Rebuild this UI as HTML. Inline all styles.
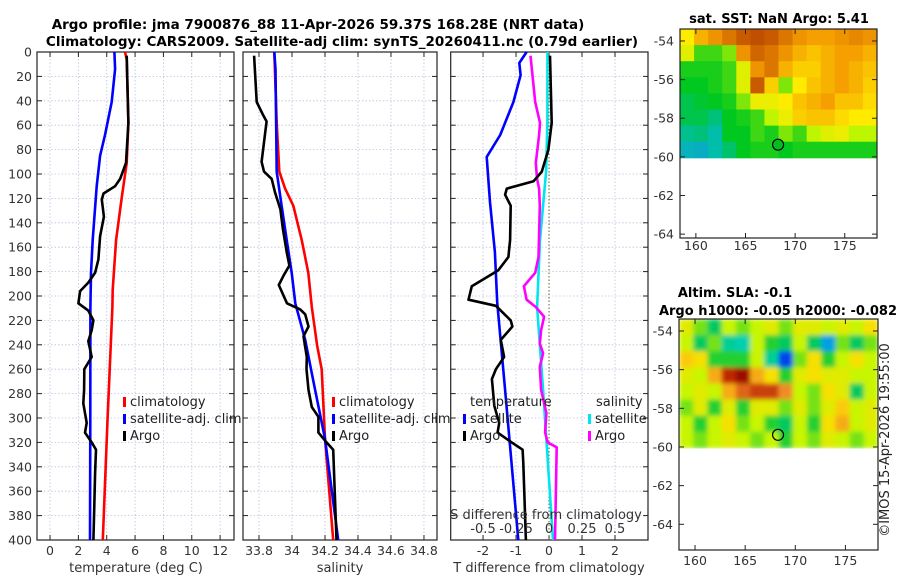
<!DOCTYPE html>
<html><head><meta charset="utf-8"><style>
body{margin:0;background:#fff}
svg{display:block;font-family:"DejaVu Sans","Liberation Sans",sans-serif}
</style></head><body>
<svg id="fig" width="900" height="580" viewBox="0 0 900 580">
<defs>
<filter id="blur" x="0" y="0" width="100%" height="100%"><feGaussianBlur stdDeviation="2.5" edgeMode="duplicate"/></filter>
<clipPath id="slaclip"><rect x="679" y="319" width="199" height="130"/></clipPath>
</defs>
<text x="318" y="29" text-anchor="middle" font-weight="bold" font-size="13.5">Argo profile: jma 7900876_88 11-Apr-2026 59.37S 168.28E (NRT data)</text>
<text x="342" y="46" text-anchor="middle" font-weight="bold" font-size="13.5">Climatology: CARS2009. Satellite-adj clim: synTS_20260411.nc (0.79d earlier)</text>
<text x="779" y="23" text-anchor="middle" font-weight="bold" font-size="13">sat. SST: NaN Argo: 5.41</text>
<text x="735" y="297" text-anchor="middle" font-weight="bold" font-size="13">Altim. SLA: -0.1</text>
<text x="778" y="315" text-anchor="middle" font-weight="bold" font-size="13">Argo h1000: -0.05 h2000: -0.082</text>
<text transform="translate(889,440) rotate(-90)" text-anchor="middle" font-size="13" fill="#222">©IMOS 15-Apr-2026 19:55:00</text>
<g id="layer"></g>
</svg>
<script>
// ---------- data ----------
const climTdepth=[0,6,58,91,119,154,195,209,304,400];
const climT=[5.29,5.41,5.53,5.41,5.06,4.66,4.42,4.4,4.05,3.72];
const satTdepth=[0,14,41,68,85,110,154,181,209,300,400];
const satT=[4.54,4.59,4.35,3.88,3.53,3.29,3.01,2.89,2.85,2.84,2.82];
const argoTdepth=[3,58,91,104,110,116,121,135,151,170,181,189,196,206,212,220,228,237,250,260,277,288,304,312,320,326,345,372,400];
const argoT=[5.41,5.53,5.36,4.94,4.59,3.77,3.65,3.8,3.53,3.41,3.18,2.7,2.12,2.0,2.7,3.06,2.94,2.7,2.94,2.42,2.4,2.35,2.59,2.47,2.94,3.24,3.18,3.12,3.06];

const climSdepth=[0,58,98,112,126,154,181,209,241,260,317,400];
const climS=[33.893,33.907,33.923,33.958,34.008,34.059,34.099,34.12,34.153,34.18,34.2,34.25];
const satSdepth=[0,14,98,126,154,181,206,236,277,317,400];
const satS=[33.893,33.9,33.907,33.937,33.968,33.998,34.02,34.08,34.14,34.2,34.28];
const argoSdepth=[3,41,52,57,68,90,98,104,115,129,145,164,175,183,191,200,206,211,215,225,233,250,260,277,291,299,312,320,326,400];
const argoS=[33.77,33.786,33.826,33.846,33.836,33.816,33.83,33.877,33.897,33.93,33.945,33.968,33.984,33.95,33.92,33.95,33.97,34.05,34.08,34.1,34.07,34.09,34.088,34.1,34.12,34.16,34.16,34.21,34.25,34.27];

const dTsatDepth=[0,9,19,41,68,86,123,164,205,277,400];
const dTsat=[-0.68,-0.9,-0.86,-1.08,-1.48,-1.89,-1.79,-1.64,-1.57,-1.33,-0.93];
const dTargoDepth=[3,58,80,98,106,112,117,126,154,168,179,192,203,208,220,225,236,250,260,268,290,304,312,320,326,337,400];
const dTargo=[0.03,0.08,-0.02,-0.22,-0.47,-1.28,-1.33,-1.16,-1.18,-1.23,-1.54,-2.34,-2.44,-1.61,-1.16,-1.11,-1.46,-1.36,-1.61,-1.73,-1.66,-1.51,-1.56,-1.13,-0.8,-0.78,-0.7];
const dSsatDepth=[0,58,98,154,209,277,400];
const dSsat=[-0.012,-0.012,-0.022,-0.068,-0.09,-0.045,0.03];
const dSargoDepth=[3,41,58,68,91,104,112,126,168,181,192,203,209,217,228,239,247,258,277,296,312,320,324,400];
const dSargo=[-0.14,-0.105,-0.068,-0.075,-0.1,-0.09,-0.075,-0.07,-0.08,-0.105,-0.19,-0.17,-0.1,-0.037,-0.06,-0.07,-0.045,-0.07,-0.06,-0.02,-0.03,-0.01,0.058,0.045];

const depthTicks=[0,20,40,60,80,100,120,140,160,180,200,220,240,260,280,300,320,340,360,380,400];
const tTicks=[0,2,4,6,8,10,12];
const sTicks=[33.8,34,34.2,34.4,34.6,34.8];
const dTicks=[-2,-1,0,1,2];
const dTickLabels=["-2","-1","0","1","2"];
const dsTickLabels=["-0.5","-0.25","0","0.25","0.5"];

const sstGrid=[
[0.65,0.75,0.8,0.85,0.9,0.92,0.9,0.85,0.8,0.78,0.78,0.8,0.82,0.8],
[0.6,0.45,0.45,0.5,0.8,0.88,0.85,0.8,0.75,0.72,0.75,0.78,0.78,0.75],
[0.42,0.42,0.42,0.45,0.6,0.8,0.85,0.75,0.7,0.7,0.75,0.78,0.75,0.72],
[0.4,0.4,0.42,0.45,0.6,0.9,0.7,0.5,0.65,0.72,0.75,0.78,0.75,0.7],
[0.35,0.38,0.4,0.42,0.5,0.62,0.62,0.65,0.72,0.75,0.78,0.72,0.72,0.68],
[0.35,0.35,0.3,0.4,0.42,0.45,0.55,0.62,0.7,0.72,0.72,0.68,0.65,0.65],
[0.28,0.3,0.25,0.4,0.4,0.45,0.42,0.5,0.45,0.55,0.6,0.62,0.55,0.55],
[0.2,0.18,0.25,0.32,0.4,0.42,0.42,0.4,0.42,0.42,0.42,0.42,0.42,0.42]];
const slaGrid=[
[0.55,0.45,0.35,0.5,0.45,0.5,0.55,0.45,0.55,0.55,0.5,0.55,0.5,0.6],
[0.5,0.35,0.45,0.3,0.28,0.5,0.4,0.35,0.5,0.35,0.2,0.45,0.35,0.45],
[0.65,0.6,0.4,0.4,0.4,0.5,0.3,0.1,0.45,0.6,0.4,0.5,0.6,0.5],
[0.55,0.5,0.7,0.88,0.95,0.7,0.6,0.4,0.55,0.6,0.55,0.55,0.5,0.5],
[0.5,0.55,0.5,0.7,0.8,0.85,0.85,0.75,0.5,0.45,0.6,0.55,0.35,0.5],
[0.45,0.55,0.4,0.55,0.4,0.55,0.55,0.45,0.55,0.45,0.55,0.65,0.5,0.55],
[0.5,0.4,0.5,0.6,0.45,0.5,0.4,0.35,0.5,0.4,0.6,0.7,0.5,0.55],
[0.5,0.45,0.5,0.55,0.5,0.45,0.5,0.4,0.5,0.45,0.55,0.5,0.45,0.5]];
const lonTicks=[160,165,170,175];
const latTicks=[-54,-56,-58,-60,-62,-64];
const argoLon=168.28, argoLat=-59.37;

// ---------- drawing ----------
const NS="http://www.w3.org/2000/svg";
const layer=document.getElementById('layer');
function mk(tag,attrs,parent){const e=document.createElementNS(NS,tag);for(const k in attrs)e.setAttribute(k,attrs[k]);(parent||layer).appendChild(e);return e;}
const Y0=52,Y1=540;
const yD=d=>Y0+(d/400)*(Y1-Y0);
function lin(a,b,p,q){return v=>p+(v-a)/(b-a)*(q-p);}

function panel(name,x0,x1,xmin,xmax,ticks,labels,showY){
  const g=mk('g',{});
  
  
  const xs=lin(xmin,xmax,x0,x1);
  ticks.forEach((t,i)=>{
    const gl=mk('line',{x1:xs(t),x2:xs(t),y1:Y0,y2:Y1,stroke:'#b8c4e0','stroke-width':0.8,'stroke-dasharray':'1.5,2'},g);
    
    
    mk('line',{x1:xs(t),x2:xs(t),y1:Y1,y2:Y1-5,stroke:'#222'},g);
    mk('line',{x1:xs(t),x2:xs(t),y1:Y0,y2:Y0+5,stroke:'#222'},g);
    const tl=mk('text',{x:xs(t),y:555,'text-anchor':'middle','font-size':12.5,fill:'#333'},g);
    tl.textContent=labels[i];
    
    
  });
  depthTicks.forEach(d=>{
    if(d>0&&d<400){
      const gl=mk('line',{x1:x0,x2:x1,y1:yD(d),y2:yD(d),stroke:'#b8c4e0','stroke-width':0.8,'stroke-dasharray':'1.5,2'},g);
      
      
    }
    mk('line',{x1:x0,x2:x0+5,y1:yD(d),y2:yD(d),stroke:'#222'},g);
    mk('line',{x1:x1,x2:x1-5,y1:yD(d),y2:yD(d),stroke:'#222'},g);
    if(showY){
      const tl=mk('text',{x:32,y:yD(d)+4.5,'text-anchor':'end','font-size':12.5,fill:'#333'},g);
      tl.textContent=d;
      
      
    }
  });
  const box=mk('rect',{x:x0,y:Y0,width:x1-x0,height:Y1-Y0,fill:'none',stroke:'#222','stroke-width':1.2},g);
  
  
  return {g,xs};
}
function series(p,vals,depths,color,name,scale){
  const pts=vals.map((v,i)=>p.xs(v*(scale||1)).toFixed(1)+','+yD(depths[i]).toFixed(1)).join(' ');
  const l=mk('polyline',{points:pts,fill:'none',stroke:color,'stroke-width':2.6,'stroke-linejoin':'round'},p.g);
  
  
}
function legendItem(g,x,y,color,label,name){
  if(color){const b=mk('rect',{x:x,y:y-9,width:3,height:10,fill:color},g);
    
    }
  const t=mk('text',{x:x+(color?7:0),y:y,'font-size':13,fill:'#222'},g);
  t.textContent=label;
  
  
}
function label(g,x,y,txt,name,anchor){
  const t=mk('text',{x:x,y:y,'text-anchor':anchor||'middle','font-size':13,fill:'#333'},g);
  t.textContent=txt;
  
  
}

// Panel 1 temperature
const p1=panel('temperature-panel',37,234,-0.92,12.98,tTicks,tTicks.map(String),true);
series(p1,climT,climTdepth,'#ff0000','temp-climatology-line');
series(p1,satT,satTdepth,'#0000ff','temp-satellite-line');
series(p1,argoT,argoTdepth,'#000000','temp-argo-line');
label(p1.g,136,572,'temperature (deg C)','temperature-axis-title');
legendItem(p1.g,123,406,'#ff0000','climatology','legend-climatology');
legendItem(p1.g,123,423,'#0000ff','satellite-adj. clim','legend-satellite');
legendItem(p1.g,123,440,'#000000','Argo','legend-argo');

// Panel 2 salinity
const p2=panel('salinity-panel',243,437,33.703,34.879,sTicks,sTicks.map(v=>v===34?'34':v.toFixed(1)),false);
series(p2,climS,climSdepth,'#ff0000','sal-climatology-line');
series(p2,satS,satSdepth,'#0000ff','sal-satellite-line');
series(p2,argoS,argoSdepth,'#000000','sal-argo-line');
label(p2.g,340,572,'salinity','salinity-axis-title');
legendItem(p2.g,332,406,'#ff0000','climatology','legend-climatology-2');
legendItem(p2.g,332,423,'#0000ff','satellite-adj. clim','legend-satellite-2');
legendItem(p2.g,332,440,'#000000','Argo','legend-argo-2');

// Panel 3 differences
const p3=panel('difference-panel',450.7,648,-2.98,3.0,dTicks,dTickLabels,false);
const zl=mk('line',{x1:p3.xs(0),x2:p3.xs(0),y1:Y0,y2:Y1,stroke:'#556b2f','stroke-width':1,'stroke-dasharray':'1.5,2'},p3.g);


series(p3,dSsat,dSsatDepth,'#00e5ee','sal-diff-satellite-line',4);
series(p3,dSargo,dSargoDepth,'#ff00ff','sal-diff-argo-line',4);
series(p3,dTsat,dTsatDepth,'#0000ff','temp-diff-satellite-line');
series(p3,dTargo,dTargoDepth,'#000000','temp-diff-argo-line');
label(p3.g,549,572,'T difference from climatology','t-diff-axis-title');
label(p3.g,546,519,'S difference from climatology','s-diff-axis-title');
dsTickLabels.forEach((s,i)=>label(p3.g,p3.xs(dTicks[i]),533,s,'s-diff-tick-label'));
legendItem(p3.g,470,406,null,'temperature','legend-temperature-header');
legendItem(p3.g,463,423,'#0000ff','satellite','legend-t-satellite');
legendItem(p3.g,463,440,'#000000','Argo','legend-t-argo');
legendItem(p3.g,596,406,null,'salinity','legend-salinity-header');
legendItem(p3.g,588,423,'#00e5ee','satellite','legend-s-satellite');
legendItem(p3.g,588,440,'#ff00ff','Argo','legend-s-argo');

// ---------- maps ----------
const sstStops=[[0,[30,130,255]],[0.25,[0,190,170]],[0.4,[0,200,30]],[0.55,[190,245,0]],[0.65,[255,235,0]],[0.78,[245,160,0]],[0.9,[200,90,0]],[1,[160,40,0]]];
const slaStops=[[0,[0,0,150]],[0.12,[0,80,255]],[0.25,[0,210,210]],[0.38,[0,200,60]],[0.5,[200,245,0]],[0.62,[255,220,0]],[0.75,[240,140,40]],[0.88,[190,40,0]],[1,[130,0,0]]];
function cmap(stops,v){
  for(let i=1;i<stops.length;i++){if(v<=stops[i][0]){const [a,ca]=stops[i-1],[b,cb]=stops[i];const t=(v-a)/(b-a);
    return 'rgb('+ca.map((c,k)=>Math.round(c+(cb[k]-c)*t)).join(',')+')';}}
  return 'rgb('+stops[stops.length-1][1].join(',')+')';
}
function map(name,x0,x1,ytop,ybot,latTop,latBot,grid,stops,dataBottomLat,labelY,fillCircle,smooth){
  const g=mk('g',{});
  
  
  const xs=lin(158.4,178.25,x0,x1);
  const ys=lin(latTop,latBot,ytop,ybot);
  const rows=grid.length, cols=grid[0].length;
  const dTop=ytop, dBot=ys(dataBottomLat);
  const cw=(x1-x0)/cols, ch=(dBot-dTop)/rows;
  let cg=g;
  if(smooth){
    const clip=mk('g',{'clip-path':'url(#slaclip)'},g);
    cg=mk('g',{filter:'url(#blur)'},clip);
  }
  grid.forEach((row,r)=>row.forEach((v,c)=>{
    const cell=mk('rect',{x:(x0+c*cw).toFixed(2),y:(dTop+r*ch).toFixed(2),width:(cw+0.5).toFixed(2),height:(ch+0.5).toFixed(2),fill:cmap(stops,v)},cg);
    
    
  }));
  lonTicks.forEach(l=>{
    mk('line',{x1:xs(l),x2:xs(l),y1:ytop,y2:ytop+5,stroke:'#222'},g);
    mk('line',{x1:xs(l),x2:xs(l),y1:ybot,y2:ybot-5,stroke:'#222'},g);
    const t=mk('text',{x:xs(l),y:labelY,'text-anchor':'middle','font-size':12.5,fill:'#333'},g);
    t.textContent=l;
    
    
  });
  latTicks.forEach(l=>{
    mk('line',{x1:x0,x2:x0+5,y1:ys(l),y2:ys(l),stroke:'#222'},g);
    mk('line',{x1:x1,x2:x1-5,y1:ys(l),y2:ys(l),stroke:'#222'},g);
    const t=mk('text',{x:x0-6,y:ys(l)+4.5,'text-anchor':'end','font-size':12.5,fill:'#333'},g);
    t.textContent=l;
    
    
  });
  const c=mk('circle',{cx:xs(argoLon),cy:ys(argoLat),r:5.5,fill:fillCircle,stroke:'#000','stroke-width':1.2},g);
  
  
  const box=mk('rect',{x:x0,y:ytop,width:x1-x0,height:ybot-ytop,fill:'none',stroke:'#222','stroke-width':1.2},g);
  
  
}
map('sst-map',680,877,29,238,-53.38,-64.2,sstGrid,sstStops,-60.05,250,'#00c020',false);
map('sla-map',679,878,319,550,-53.38,-65.33,slaGrid,slaStops,-60.05,565,'none',true);
</script>
</body></html>
